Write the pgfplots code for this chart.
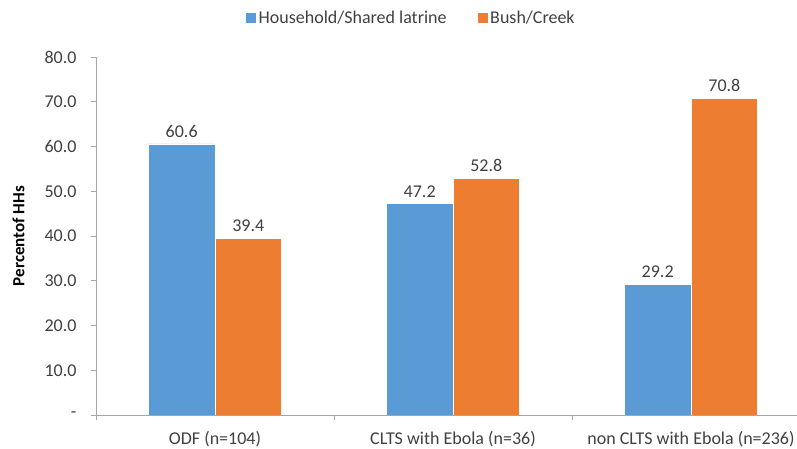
\documentclass[border=0pt]{standalone}
\usepackage{fontspec}
\setmainfont{Carlito}
\usepackage{pgfplots}
\pgfplotsset{compat=1.18}
\definecolor{hhblue}{HTML}{5B9BD5}
\definecolor{bushorange}{HTML}{ED7D31}
\definecolor{txtgray}{HTML}{404040}
\definecolor{axgray}{HTML}{A6A6A6}
\begin{document}
\begin{tikzpicture}[x=1bp,y=1bp]
\clip (-96,-34) rectangle (701,415);
\begin{axis}[
  at={(0,0)}, anchor=south west,
  scale only axis, width=714bp, height=358bp,
  ybar=0pt, bar width=0.28,
  xmin=-0.5, xmax=2.5, ymin=0, ymax=80,
  axis x line=bottom, axis y line=left,
  axis line style={-, draw=axgray, line width=0.8bp},
  tick align=outside,
  major tick length=5bp,
  tick style={draw=axgray, line width=0.8bp},
  ytick={0,10,...,80},
  yticklabels={-,10.0,20.0,30.0,40.0,50.0,60.0,70.0,80.0},
  yticklabel style={font=\fontsize{18bp}{20bp}\selectfont, text=txtgray, xshift=-11bp},
  xtick={-0.5,0.5,1.5,2.5}, xticklabels={},
  extra x ticks={0,1,2},
  extra x tick labels={ODF (n=104),CLTS with Ebola (n=36),non CLTS with Ebola (n=236)},
  extra x tick style={major tick length=0pt,
    ticklabel style={font=\fontsize{18bp}{20bp}\selectfont, text=txtgray, yshift=-13bp}},
  ylabel={\textbf{Percentof HHs}},
  ylabel style={font=\fontsize{17bp}{19bp}\selectfont, text=black,
    at={(axis description cs:-0.0952,0.5)}, anchor=south, rotate=0},
  /pgf/number format/assume math mode=true,
  /pgf/number format/fixed, /pgf/number format/fixed zerofill, /pgf/number format/precision=1,
  nodes near coords,
  every node near coord/.append style={font=\fontsize{18bp}{20bp}\selectfont, text=txtgray, yshift=3bp},
  legend columns=2,
  legend style={draw=none, fill=none, at={(0.441,1.109)}, anchor=center,
    font=\fontsize{18bp}{20bp}\selectfont, text=txtgray,
    /tikz/every even column/.append style={column sep=28bp}},
  legend image code/.code={\fill[#1] (0bp,-5.5bp) rectangle (11bp,5.5bp);},
]
\addplot[fill=hhblue, draw=white, line width=0.6bp] coordinates {(0,60.6) (1,47.2) (2,29.2)};
\addplot[fill=bushorange, draw=white, line width=0.6bp] coordinates {(0,39.4) (1,52.8) (2,70.8)};
\legend{Household/Shared latrine, Bush/Creek}
\end{axis}
\end{tikzpicture}
\end{document}
